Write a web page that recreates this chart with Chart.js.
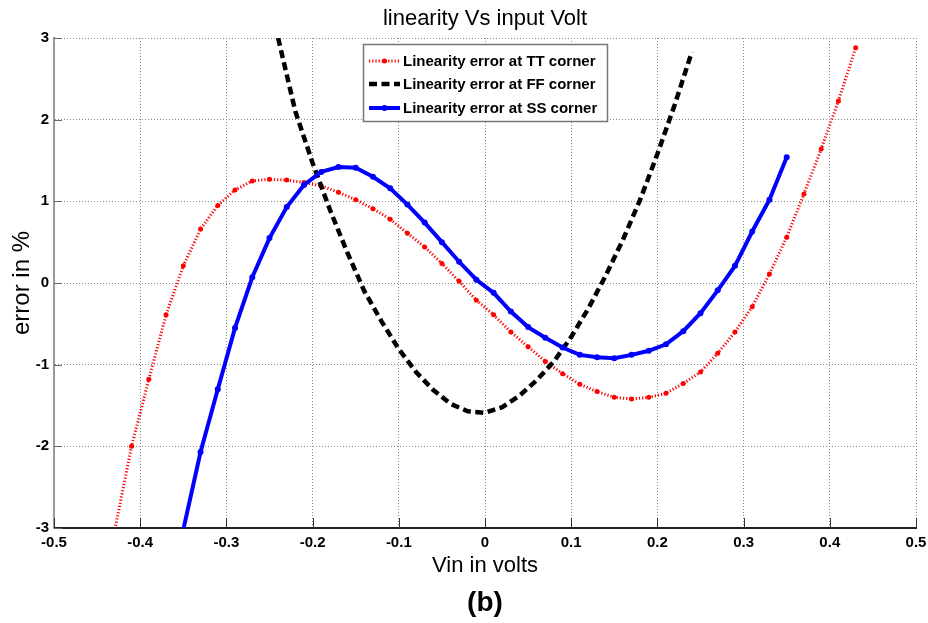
<!DOCTYPE html>
<html>
<head>
<meta charset="utf-8">
<title>linearity Vs input Volt</title>
<script src="https://cdn.jsdelivr.net/npm/chart.js@4.4.1/dist/chart.umd.min.js"></script>
<style>
  html, body { margin: 0; padding: 0; background: #ffffff; }
  #wrap { width: 928px; height: 623px; }
</style>
</head>
<body>
<div id="wrap"><canvas id="c" width="928" height="623"></canvas></div>
<script>
// Input voltage samples (V) for each process corner
const vinTT = [-0.43, -0.41, -0.39, -0.37, -0.35, -0.33, -0.31, -0.29, -0.27, -0.25, -0.23,
  -0.21, -0.19, -0.17, -0.15, -0.13, -0.11, -0.09, -0.07, -0.05, -0.03, -0.01,
  0.01, 0.03, 0.05, 0.07, 0.09, 0.11, 0.13, 0.15, 0.17, 0.19, 0.21,
  0.23, 0.25, 0.27, 0.29, 0.31, 0.33, 0.35, 0.37, 0.39, 0.41, 0.43];
const errTT = [-3.05, -2.00, -1.18, -0.39, 0.21, 0.66, 0.95, 1.14, 1.25, 1.27, 1.26,
  1.23, 1.19, 1.11, 1.02, 0.91, 0.78, 0.61, 0.44, 0.24, 0.02, -0.21,
  -0.39, -0.60, -0.78, -0.96, -1.11, -1.24, -1.33, -1.40, -1.42, -1.40, -1.35,
  -1.23, -1.09, -0.86, -0.60, -0.29, 0.11, 0.56, 1.09, 1.64, 2.23, 2.88];

const vinFF = [-0.24, -0.22, -0.20, -0.18, -0.16, -0.14, -0.12, -0.10, -0.08, -0.06, -0.04, -0.02,
  0.00, 0.02, 0.04, 0.06, 0.08, 0.10, 0.12, 0.14, 0.16, 0.18, 0.20, 0.22, 0.24];
const errFF = [3.00, 2.10, 1.47, 0.90, 0.38, -0.10, -0.47, -0.81, -1.09, -1.31, -1.48, -1.57,
  -1.59, -1.52, -1.38, -1.19, -0.96, -0.66, -0.31, 0.09, 0.53, 1.02, 1.58, 2.18, 2.83];

const vinSS = [-0.35, -0.33, -0.31, -0.29, -0.27, -0.25, -0.23, -0.21, -0.19, -0.17, -0.15, -0.13,
  -0.11, -0.09, -0.07, -0.05, -0.03, -0.01, 0.01, 0.03, 0.05, 0.07, 0.09, 0.11,
  0.13, 0.15, 0.17, 0.19, 0.21, 0.23, 0.25, 0.27, 0.29, 0.31, 0.33, 0.35];
const errSS = [-3.02, -2.07, -1.30, -0.55, 0.07, 0.55, 0.93, 1.20, 1.36, 1.42, 1.41, 1.30,
  1.16, 0.96, 0.74, 0.50, 0.26, 0.04, -0.12, -0.35, -0.54, -0.67, -0.79, -0.88,
  -0.91, -0.92, -0.88, -0.83, -0.75, -0.59, -0.37, -0.09, 0.21, 0.63, 1.02, 1.54];

const seriesNames = ['Linearity error at TT corner', 'Linearity error at FF corner', 'Linearity error at SS corner'];
const xTickLabels = ['-0.5', '-0.4', '-0.3', '-0.2', '-0.1', '0', '0.1', '0.2', '0.3', '0.4', '0.5'];
const yTickLabels = ['-3', '-2', '-1', '0', '1', '2', '3'];
const chartTitle = 'linearity Vs input Volt';
const xTitle = 'Vin in volts';
const yTitle = 'error in %';
const panelLabel = '(b)';

const FONT = '"Liberation Sans", Arial, Helvetica, sans-serif';

function pairs(xs, ys) { return xs.map((x, i) => ({ x: x, y: ys[i] })); }

// Titles, inward tick marks and the boxed legend
const decorations = {
  id: 'decorations',
  afterDraw(chart) {
    const ctx = chart.ctx;
    const a = chart.chartArea;
    const xs = chart.scales.x, ys = chart.scales.y;
    ctx.save();

    // inward tick marks
    ctx.lineWidth = 1;
    ctx.strokeStyle = '#333';
    xs.ticks.forEach(t => {
      const px = Math.round(xs.getPixelForValue(t.value)) + 0.5;
      ctx.beginPath(); ctx.moveTo(px, a.bottom); ctx.lineTo(px, a.bottom - 10); ctx.stroke();
    });
    ctx.strokeStyle = '#666';
    ys.ticks.forEach(t => {
      const py = Math.round(ys.getPixelForValue(t.value)) + 0.5;
      ctx.beginPath(); ctx.moveTo(a.left, py); ctx.lineTo(a.left + 8, py); ctx.stroke();
    });

    const cx = (a.left + a.right) / 2;
    ctx.fillStyle = '#000';
    ctx.textAlign = 'center';
    ctx.textBaseline = 'alphabetic';
    ctx.font = '22px ' + FONT;
    ctx.fillText(chartTitle, cx, 25);
    ctx.fillText(xTitle, cx, 572);
    ctx.font = 'bold 28px ' + FONT;
    ctx.fillText(panelLabel, cx, 611);

    ctx.save();
    ctx.translate(29, (a.top + a.bottom) / 2);
    ctx.rotate(-Math.PI / 2);
    ctx.font = '24px ' + FONT;
    ctx.fillText(yTitle, 0, 0);
    ctx.restore();

    // legend
    const bx = 363.5, by = 44.5, bw = 244, bh = 77;
    ctx.fillStyle = '#fff';
    ctx.fillRect(bx, by, bw, bh);
    ctx.strokeStyle = '#777';
    ctx.lineWidth = 1.5;
    ctx.strokeRect(bx, by, bw, bh);

    const rows = [61, 84, 108];
    chart.data.datasets.forEach((ds, i) => {
      const y = rows[i];
      ctx.save();
      ctx.strokeStyle = ds.borderColor;
      ctx.lineWidth = ds.borderWidth;
      ctx.setLineDash(ds.borderDash || []);
      ctx.beginPath(); ctx.moveTo(369, y); ctx.lineTo(400, y); ctx.stroke();
      ctx.setLineDash([]);
      if (ds.pointRadius > 0) {
        ctx.fillStyle = ds.pointBackgroundColor;
        ctx.beginPath(); ctx.arc(384.5, y, ds.pointRadius, 0, Math.PI * 2); ctx.fill();
      }
      ctx.restore();
      ctx.fillStyle = '#000';
      ctx.textAlign = 'left';
      ctx.textBaseline = 'middle';
      ctx.font = 'bold 15px ' + FONT;
      ctx.fillText(ds.label, 403, y + 1);
    });
    ctx.restore();
  }
};

new Chart(document.getElementById('c'), {
  type: 'line',
  data: {
    datasets: [
      {
        label: seriesNames[0],
        data: pairs(vinTT, errTT),
        borderColor: '#ff0000',
        borderWidth: 3,
        borderDash: [1.2, 2],
        pointRadius: 2.5,
        pointBackgroundColor: '#ff0000',
        pointBorderWidth: 0,
        tension: 0,
        order: 3
      },
      {
        label: seriesNames[1],
        data: pairs(vinFF, errFF),
        borderColor: '#000000',
        borderWidth: 4.5,
        borderDash: [8, 4.5],
        pointRadius: 0,
        tension: 0,
        order: 2
      },
      {
        label: seriesNames[2],
        data: pairs(vinSS, errSS),
        borderColor: '#0000ff',
        borderWidth: 4,
        pointRadius: 3,
        pointBackgroundColor: '#0000ff',
        pointBorderWidth: 0,
        tension: 0,
        order: 1
      }
    ]
  },
  options: {
    responsive: false,
    animation: false,
    devicePixelRatio: 1,
    layout: { padding: { left: 0, right: 12, top: 38, bottom: 0 } },
    plugins: {
      legend: { display: false },
      title: { display: false },
      tooltip: { enabled: false }
    },
    scales: {
      x: {
        type: 'linear',
        min: -0.5, max: 0.5,
        afterFit(s) { s.height = 95; s.paddingLeft = 0; s.paddingRight = 0; },
        ticks: {
          stepSize: 0.1,
          padding: 6,
          color: '#000',
          font: { family: FONT, size: 15, weight: 'bold' },
          maxRotation: 0,
          autoSkip: false,
          callback: (v, i) => xTickLabels[i]
        },
        grid: { color: '#8a8a8a', lineWidth: 1, drawTicks: false },
        border: { display: true, color: '#222', width: 2, dash: [1, 2] }
      },
      y: {
        type: 'linear',
        min: -3, max: 3,
        afterFit(s) { s.width = 54; s.paddingTop = 0; s.paddingBottom = 0; },
        ticks: {
          stepSize: 1,
          padding: 5,
          color: '#000',
          font: { family: FONT, size: 15, weight: 'bold' },
          autoSkip: false,
          callback: (v, i) => yTickLabels[i]
        },
        grid: { color: '#8a8a8a', lineWidth: 1, drawTicks: false },
        border: { display: true, color: '#9a9a9a', width: 2, dash: [1, 2] }
      }
    }
  },
  plugins: [decorations]
});
</script>
</body>
</html>
